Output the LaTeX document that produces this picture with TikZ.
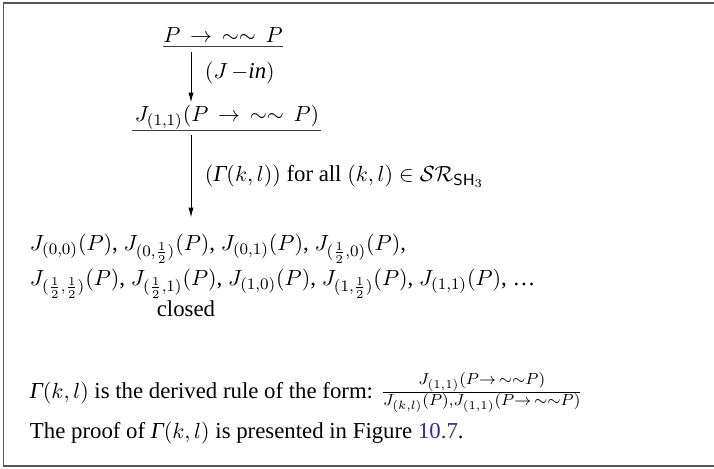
\documentclass[tikz,border=0pt]{standalone}
\usepackage{fontspec}
\setmainfont{Liberation Serif}
\usetikzlibrary{arrows.meta}
\definecolor{linkblue}{RGB}{50,45,150}
\definecolor{framegray}{RGB}{85,85,85}
\tikzset{
  px/.style={x=0.5pt,y=-0.5pt},
  txt/.style={inner sep=0pt,outer sep=0pt,font=\fontsize{11.4}{13.5}\selectfont},
  arr/.style={-{Latex[length=5pt,width=2.6pt]},line width=0.5pt},
  rulebar/.style={line width=0.7pt,draw=black!75},
  frame/.style={draw=framegray,line width=0.9pt}
}
\newcommand{\impdn}{\;\,{\rightarrow}\;\,{\sim}{\sim}\;\,}
\newcommand{\Gam}{\textit{Γ}}
\begin{document}
\begin{tikzpicture}[px]
\useasboundingbox (0,0) rectangle (714,468);
\draw[frame] (3.5,3) rectangle (716,466);
% top formula
\node[txt,anchor=base] (top) at (223,42) {$P\impdn P$};
\draw[rulebar] ([yshift=-2.3pt]top.base west) -- ([yshift=-2.3pt]top.base east);
\coordinate (ax) at (191,0);
% second formula
\node[txt,anchor=base] (j11) at (227,121) {$J_{(1,1)}(P\impdn P)$};
\draw[rulebar] ([xshift=-1.5pt,yshift=-4.8pt]j11.base west) -- ([xshift=1pt,yshift=-4.8pt]j11.base east);
\draw[arr] ([yshift=-5pt]top.base -| ax) -- ([yshift=1pt]j11.north -| ax)
  node[txt,pos=0.42,anchor=west,xshift=7pt] (lab1) {$(J\,{-}\mathit{in})$};
% result lines
\node[txt,anchor=base west] (l1) at (30,250) {$J_{(0,0)}(P)$, $J_{(0,\frac{1}{2})}(P)$, $J_{(0,1)}(P)$, $J_{(\frac{1}{2},0)}(P)$,};
\node[txt,anchor=base west] (l2) at (30,285) {$J_{(\frac{1}{2},\frac{1}{2})}(P)$, $J_{(\frac{1}{2},1)}(P)$, $J_{(1,0)}(P)$, $J_{(1,\frac{1}{2})}(P)$, $J_{(1,1)}(P)$, \ldots};
\node[txt,anchor=base] (closed) at (186,316) {closed};
\draw[arr] ([yshift=-7pt]j11.base -| ax) -- ([yshift=8pt]l1.north -| ax)
  node[txt,pos=0.5,anchor=west,xshift=7pt] (lab2) {$(\Gam(k,l))$ for all $(k,l)\in\mathcal{SR}_{\mathsf{SH}_3}$};
% bottom text
\node[txt,anchor=base west] (def) at (30,398) {$\Gam(k,l)$ is the derived rule of the form: $\frac{J_{(1,1)}(P\rightarrow\,{\sim}{\sim}P)}{J_{(k,l)}(P),J_{(1,1)}(P\rightarrow\,{\sim}{\sim}P)}$};
\node[txt,anchor=base west] (proof) at (30,438) {The proof of $\Gam(k,l)$ is presented in Figure \textcolor{linkblue}{10.7}.};
\end{tikzpicture}
\end{document}
